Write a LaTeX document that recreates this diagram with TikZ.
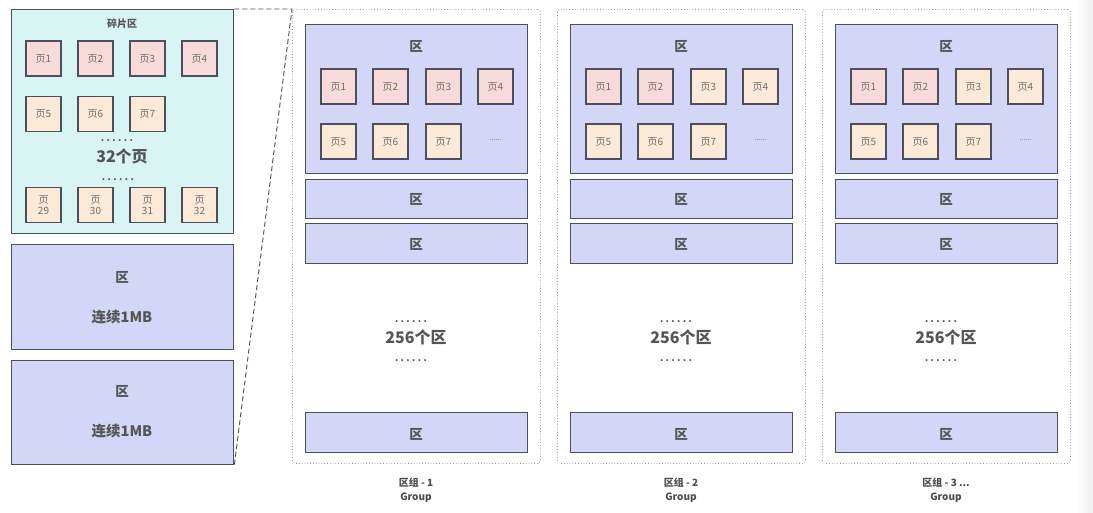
\documentclass[tikz,border=0pt]{standalone}
\usepackage{fontspec}
\setmainfont{Noto Sans CJK SC}
\definecolor{fragfill}{HTML}{D8F4F3}
\definecolor{extfill}{HTML}{D3D6F7}
\definecolor{pgpink}{HTML}{F9DADA}
\definecolor{pgpeach}{HTML}{FCE9D8}
\definecolor{ink}{HTML}{555555}
\definecolor{edgegray}{HTML}{4C4F5C}
\newcommand\spreaddots{.\kern2.4pt.\kern2.4pt.\kern2.4pt.\kern2.4pt.\kern2.4pt.}
\tikzset{
  boxbase/.style={draw=edgegray, line width=1.3pt, anchor=north west, inner sep=0pt},
  fragbox/.style={boxbase, fill=fragfill},
  extbox/.style={boxbase, fill=extfill},
  pagebox/.style={draw=edgegray, line width=1.2pt, minimum size=35pt, inner sep=0pt,
                  font=\fontsize{10}{11}\selectfont, text=ink!85, align=center},
  grpbox/.style={draw=gray!80, dotted, line width=0.8pt, rounded corners=3pt, anchor=north west, inner sep=0pt},
  boldlbl/.style={font=\bfseries\fontsize{13.5}{15}\selectfont, text=ink},
  mblbl/.style={font=\bfseries\fontsize{14.5}{16}\selectfont, text=ink},
  biglbl/.style={font=\bfseries\fontsize{16}{18}\selectfont, text=ink},
  dotlbl/.style={font=\bfseries\fontsize{9.5}{9.5}\selectfont, text=ink},
  smalllbl/.style={font=\bfseries\fontsize{10}{13.5}\selectfont, text=ink!90!black, align=center},
  zoomline/.style={draw=black!70, dash pattern=on 5pt off 3pt, line width=0.9pt},
}
\begin{document}
\begin{tikzpicture}[x=1pt,y=-1pt]
\useasboundingbox (0,0) rectangle (1093,512);
\fill[white] (0,0) rectangle (1093,512);
\shade[left color=white, right color=gray!12] (1076,0) rectangle (1093,512);

% fragment extent with its 32 pages
\node[fragbox, minimum width=222pt, minimum height=224pt] (frag) at (11,9) {};
\node[font=\bfseries\fontsize{10}{11}\selectfont, text=ink] (fragt) at (122,24) {碎片区};
\foreach \i/\x in {1/43.5,2/95.5,3/147.5,4/199.5}
  \node[pagebox, fill=pgpink] (fp\i) at (\x,58.5) {页\i};
\foreach \i/\x in {5/43.5,6/95.5,7/147.5}
  \node[pagebox, fill=pgpeach] (fp\i) at (\x,114) {页\i};
\foreach \i/\x in {29/43.5,30/95.5,31/147.5,32/199.5}
  \node[pagebox, fill=pgpeach, font=\fontsize{10}{11.5}\selectfont] (fp\i) at (\x,205) {页\\\i};
\node[dotlbl] (fdots1) at (117,141) {\spreaddots};
\node[biglbl] (fcount) at (122,156) {32个页};
\node[dotlbl] (fdots2) at (118,180) {\spreaddots};

% two contiguous extents
\node[extbox, minimum width=222pt, minimum height=105pt] (ext1) at (11,244) {};
\node[boldlbl] (ext1a) at (122,277) {区};
\node[mblbl] (ext1b) at (122,317) {连续1MB};
\node[extbox, minimum width=222pt, minimum height=104pt] (ext2) at (11,360) {};
\node[boldlbl] (ext2a) at (122,391) {区};
\node[mblbl] (ext2b) at (122,431) {连续1MB};

% extent groups
\foreach \g/\gx/\cc/\lbl in {1/0/pgpink/{区组 - 1},2/265/pgpeach/{区组 - 2},3/530/pgpeach/{区组 - 3 ...}}{
  \begin{scope}[xshift=\gx pt]
    \node[grpbox, minimum width=248pt, minimum height=454pt] (grp\g) at (292,9) {};
    \node[extbox, minimum width=222pt, minimum height=149pt] (g\g e1) at (305,24) {};
    \node[boldlbl] (g\g t1) at (416,46) {区};
    \node[pagebox, fill=pgpink] (g\g p1) at (338.5,86.5) {页1};
    \node[pagebox, fill=pgpink] (g\g p2) at (390.5,86.5) {页2};
    \node[pagebox, fill=\cc] (g\g p3) at (443.5,86.5) {页3};
    \node[pagebox, fill=\cc] (g\g p4) at (495.5,86.5) {页4};
    \node[pagebox, fill=pgpeach] (g\g p5) at (338.5,141.5) {页5};
    \node[pagebox, fill=pgpeach] (g\g p6) at (390.5,141.5) {页6};
    \node[pagebox, fill=pgpeach] (g\g p7) at (443.5,141.5) {页7};
    \node[font=\fontsize{7}{7}\selectfont, text=ink] (g\g pd) at (495.5,140) {......};
    \node[extbox, minimum width=222pt, minimum height=39pt] (g\g e2) at (305,179) {};
    \node[boldlbl] (g\g t2) at (416,199) {区};
    \node[extbox, minimum width=222pt, minimum height=40pt] (g\g e3) at (305,223) {};
    \node[boldlbl] (g\g t3) at (416,244) {区};
    \node[dotlbl] (g\g d1) at (411,322) {\spreaddots};
    \node[biglbl] (g\g n) at (416,337) {256个区};
    \node[dotlbl] (g\g d2) at (411,361) {\spreaddots};
    \node[extbox, minimum width=222pt, minimum height=40pt] (g\g e4) at (305,412) {};
    \node[boldlbl] (g\g t4) at (416,434) {区};
    \node[smalllbl] (g\g lbl) at (416,490) {\lbl\\Group};
  \end{scope}
}

% zoom lines from the fragment extent to the first group
\draw[zoomline] (frag.north east) -- (grp1.north west) -- (ext2.south east);
\end{tikzpicture}
\end{document}
